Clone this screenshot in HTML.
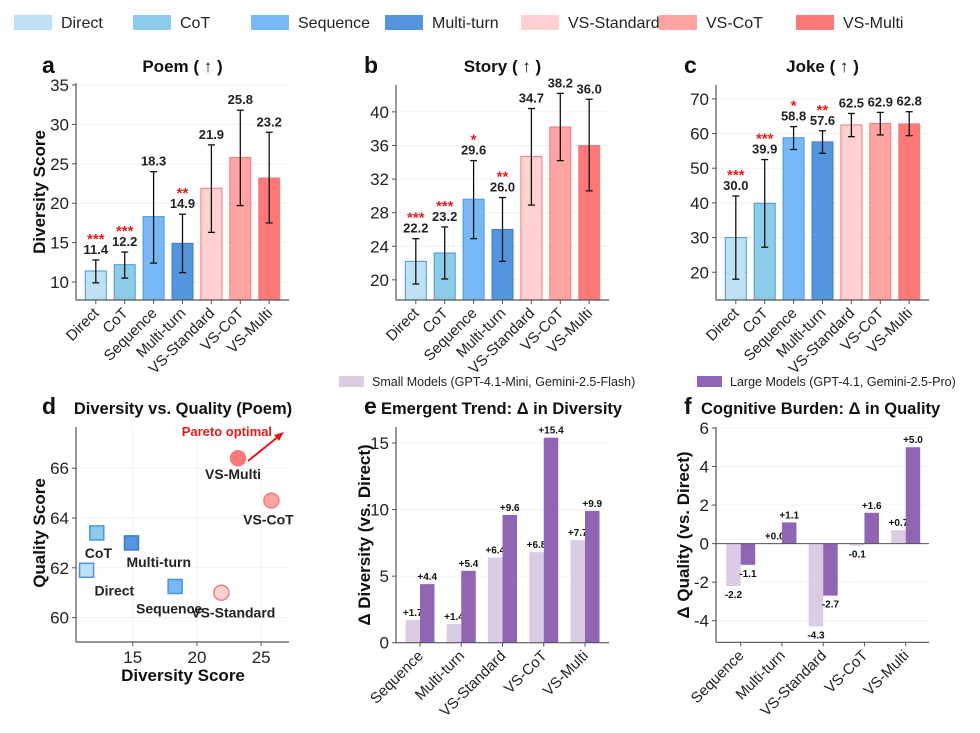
<!DOCTYPE html>
<html><head><meta charset="utf-8">
<style>
body{margin:0;background:#fff;}
svg{display:block;font-family:"Liberation Sans",Arial,sans-serif;}
</style></head>
<body>
<svg id="fig" width="980" height="733" viewBox="0 0 980 733" xmlns="http://www.w3.org/2000/svg"></svg>
<script>
const methods=["Direct","CoT","Sequence","Multi-turn","VS-Standard","VS-CoT","VS-Multi"];
const fills=["#bfe1f6","#8ccbea","#78b8f6","#5595de","#ffd1d1","#ffa3a3","#ff7878"];
const edges=["#4b97d6","#4b97d6","#4b97d6","#3a7cc9","#ee7c7c","#ee7c7c","#ee7c7c"];
const poemVals=[11.4,12.2,18.3,14.9,21.9,25.8,23.2];
const poemLo=[9.9,10.5,12.4,11.2,16.3,19.7,17.5];
const poemHi=[12.8,13.8,24.0,18.6,27.4,31.8,29.0];
const poemStars=["***","***","","**","","",""];
const poemTicks=[10,15,20,25,30,35];
const storyVals=[22.2,23.2,29.6,26.0,34.7,38.2,36.0];
const storyLo=[19.5,20.1,24.9,22.2,28.9,34.2,30.6];
const storyHi=[24.9,26.3,34.2,29.8,40.4,42.2,41.5];
const storyStars=["***","***","*","**","","",""];
const storyTicks=[20,24,28,32,36,40];
const jokeVals=[30.0,39.9,58.8,57.6,62.5,62.9,62.8];
const jokeLo=[18.0,27.2,55.4,54.3,59.1,59.6,59.4];
const jokeHi=[42.0,52.5,62.0,60.8,65.8,66.1,66.3];
const jokeStars=["***","***","*","**","","",""];
const jokeTicks=[20,30,40,50,60,70];
const scDiv=[11.4,12.2,18.3,14.9,21.9,25.8,23.2];
const scQual=[61.9,63.4,61.25,63.0,61.0,64.7,66.4];
const scXTicks=[15,20,25];
const scYTicks=[60,62,64,66];
const deltaCats=["Sequence","Multi-turn","VS-Standard","VS-CoT","VS-Multi"];
const divSmall=[1.7,1.4,6.4,6.8,7.7];
const divLarge=[4.4,5.4,9.6,15.4,9.9];
const divTicks=[0,5,10,15];
const qualSmall=[-2.2,0.0,-4.3,-0.1,0.7];
const qualLarge=[-1.1,1.1,-2.7,1.6,5.0];
const qualTicks=[-4,-2,0,2,4,6];

const svg=document.getElementById('fig');
const NS="http://www.w3.org/2000/svg";
function el(tag,attrs,parent,text){const e=document.createElementNS(NS,tag);for(const k in attrs)e.setAttribute(k,attrs[k]);if(text!==undefined)e.textContent=text;(parent||svg).appendChild(e);return e;}
function fmt(v,sign){const s=v.toFixed(1);return sign&&v>=0?"+"+s:s;}

const legX=[14,133,251,385,521,659,796];
methods.forEach((m,i)=>{
  const g=el('g',{});
  
  
  el('rect',{x:legX[i],y:15,width:38,height:15,fill:fills[i]},g);
  el('text',{x:legX[i]+47,y:28,'font-size':16,fill:'#222'},g,m);
});

function barPanel(o){
  const g=el('g',{});
  
  
  const ys=v=>o.yb-(v-o.vmin)/(o.vmax-o.vmin)*(o.yb-o.yt);
  const xs=i=>o.x0+19.8+i*28.9;
  o.ticks.forEach(t=>{
    el('line',{x1:o.x0,x2:o.x1,y1:ys(t),y2:ys(t),stroke:'#f0f0f0','stroke-width':1},g);
    el('line',{x1:o.x0-4,x2:o.x0,y1:ys(t),y2:ys(t),stroke:'#555'},g);
    el('text',{x:o.x0-7,y:ys(t)+6,'font-size':17,'text-anchor':'end',fill:'#222'},g,t);
  });
  o.vals.forEach((v,i)=>{
    const cx=xs(i);
    const b=el('rect',{x:cx-10.5,y:ys(v),width:21,height:o.yb-ys(v),fill:fills[i],stroke:edges[i],'stroke-width':1},g);
    
    
    const lo=ys(o.lo[i]),hi=ys(o.hi[i]);
    el('line',{x1:cx,x2:cx,y1:lo,y2:hi,stroke:'#111','stroke-width':1.3},g);
    el('line',{x1:cx-3.5,x2:cx+3.5,y1:lo,y2:lo,stroke:'#111','stroke-width':1.3},g);
    el('line',{x1:cx-3.5,x2:cx+3.5,y1:hi,y2:hi,stroke:'#111','stroke-width':1.3},g);
    el('text',{x:cx,y:hi-6,'font-size':13,'font-weight':'bold','text-anchor':'middle',fill:'#222'},g,fmt(o.vals[i]));
    if(o.stars[i]) el('text',{x:cx,y:hi-16,'font-size':15,'font-weight':'bold','text-anchor':'middle',fill:'#e02020'},g,o.stars[i]);
    el('line',{x1:cx,x2:cx,y1:o.yb,y2:o.yb+4,stroke:'#555'},g);
    el('text',{x:cx+4,y:o.yb+14,'font-size':15,'text-anchor':'end',fill:'#222',transform:`rotate(-45 ${cx+4} ${o.yb+14})`},g,methods[i]);
  });
  el('line',{x1:o.x0,x2:o.x0,y1:o.spineTop,y2:o.yb,stroke:'#555','stroke-width':1.2},g);
  el('line',{x1:o.x0,x2:o.x1,y1:o.yb,y2:o.yb,stroke:'#555','stroke-width':1.2},g);
  el('text',{x:(o.x0+o.x1)/2,y:72,'font-size':17,'font-weight':'bold','text-anchor':'middle',fill:'#111'},g,o.title);
  el('text',{x:o.letterX,y:73,'font-size':23,'font-weight':'bold',fill:'#111'},g,o.letter);
}
barPanel({name:'poem-panel',title:'Poem ( ↑ )',letter:'a',letterX:42,x0:76,x1:289,yt:83,yb:300,vmin:7.72,vmax:35.25,spineTop:83,ticks:poemTicks,vals:poemVals,lo:poemLo,hi:poemHi,stars:poemStars});
barPanel({name:'story-panel',title:'Story ( ↑ )',letter:'b',letterX:364,x0:396,x1:609,yt:85,yb:300,vmin:17.6,vmax:43.2,spineTop:85,ticks:storyTicks,vals:storyVals,lo:storyLo,hi:storyHi,stars:storyStars});
barPanel({name:'joke-panel',title:'Joke ( ↑ )',letter:'c',letterX:684,x0:716,x1:929,yt:85,yb:300,vmin:12.0,vmax:74.0,spineTop:85,ticks:jokeTicks,vals:jokeVals,lo:jokeLo,hi:jokeHi,stars:jokeStars});
const yt1=el('text',{x:0,y:0,'font-size':17,'font-weight':'bold','text-anchor':'middle',fill:'#111',transform:'translate(45 192) rotate(-90)'},svg,'Diversity Score');



(function(){
  const g=el('g',{});
  
  
  const x0=76,x1=289,yb=642,yt=427;
  const xs=v=>x0+(v-10.58)*12.84;
  const ys=v=>yb-(v-59.02)*24.9;
  scXTicks.forEach(t=>{
    el('line',{x1:xs(t),x2:xs(t),y1:yt,y2:yb,stroke:'#f0f0f0'},g);
    el('line',{x1:xs(t),x2:xs(t),y1:yb,y2:yb+4,stroke:'#555'},g);
    el('text',{x:xs(t),y:yb+21,'font-size':17,'text-anchor':'middle',fill:'#222'},g,t);
  });
  scYTicks.forEach(t=>{
    el('line',{x1:x0,x2:x1,y1:ys(t),y2:ys(t),stroke:'#f0f0f0'},g);
    el('line',{x1:x0-4,x2:x0,y1:ys(t),y2:ys(t),stroke:'#555'},g);
    el('text',{x:x0-7,y:ys(t)+6,'font-size':17,'text-anchor':'end',fill:'#222'},g,t);
  });
  el('line',{x1:x0,x2:x0,y1:yt,y2:yb,stroke:'#555','stroke-width':1.2},g);
  el('line',{x1:x0,x2:x1,y1:yb,y2:yb,stroke:'#555','stroke-width':1.2},g);
  const lblOff=[[8,25,'start'],[-12,25,'start'],[-6,27,'middle'],[-5,24,'start'],[12,25,'middle'],[-3,24,'middle'],[-5,21,'middle']];
  scDiv.forEach((d,i)=>{
    const cx=xs(d),cy=ys(scQual[i]);
    let m;
    if(i<4) m=el('rect',{x:cx-7,y:cy-7,width:14,height:14,fill:fills[i],stroke:edges[i],'stroke-width':1.5},g);
    else m=el('circle',{cx:cx,cy:cy,r:7.5,fill:fills[i],stroke:edges[i],'stroke-width':1.5},g);
    
    
    const o=lblOff[i];
    el('text',{x:cx+o[0],y:cy+o[1],'font-size':14,'font-weight':'bold','text-anchor':o[2],fill:'#222'},g,methods[i]);
  });
  el('text',{x:272,y:436,'font-size':13,'font-weight':'bold','text-anchor':'end',fill:'#e01a1a'},g,'Pareto optimal');
  el('line',{x1:248,y1:461,x2:279,y2:436,stroke:'#e01a1a','stroke-width':2},g);
  el('polygon',{points:'284,432 274,435 279,441',fill:'#e01a1a'},g);
  el('text',{x:183,y:414,'font-size':16.5,'font-weight':'bold','text-anchor':'middle',fill:'#111'},g,'Diversity vs. Quality (Poem)');
  el('text',{x:42,y:414,'font-size':23,'font-weight':'bold',fill:'#111'},g,'d');
  el('text',{x:183,y:681,'font-size':17,'font-weight':'bold','text-anchor':'middle',fill:'#111'},g,'Diversity Score');
  el('text',{x:0,y:0,'font-size':17,'font-weight':'bold','text-anchor':'middle',fill:'#111',transform:'translate(45 533) rotate(-90)'},g,'Quality Score');
})();

[["Small Models (GPT-4.1-Mini, Gemini-2.5-Flash)","#dccbe5",339],["Large Models (GPT-4.1, Gemini-2.5-Pro)","#8f65b4",697]].forEach((l,i)=>{
  const g=el('g',{});
  
  
  el('rect',{x:l[2],y:376,width:25,height:11,fill:l[1]},g);
  el('text',{x:l[2]+33,y:386,'font-size':12.5,fill:'#222'},g,l[0]);
});

function deltaPanel(o){
  const g=el('g',{});
  
  
  const ys=v=>o.yb-(v-o.vmin)/(o.vmax-o.vmin)*(o.yb-o.yt);
  const xs=i=>o.c0+i*41.25;
  o.ticks.forEach(t=>{
    el('line',{x1:o.x0,x2:o.x1,y1:ys(t),y2:ys(t),stroke:'#f0f0f0'},g);
    el('line',{x1:o.x0-4,x2:o.x0,y1:ys(t),y2:ys(t),stroke:'#555'},g);
    el('text',{x:o.x0-7,y:ys(t)+6,'font-size':17,'text-anchor':'end',fill:'#222'},g,t);
  });
  const z=ys(0);
  deltaCats.forEach((c,i)=>{
    const cx=xs(i);
    [[o.small[i],'#dccbe5',-14.5,'small'],[o.large[i],'#8f65b4',0,'large']].forEach(s=>{
      const v=s[0],top=Math.min(ys(v),z),h=Math.abs(ys(v)-z);
      const r=el('rect',{x:cx+s[2],y:top,width:14.5,height:Math.max(h,0.5),fill:s[1]},g);
      
      
      const ly=v>=0?ys(v)-4:ys(v)+12;
      el('text',{x:cx+s[2]+7.25,y:ly,'font-size':10,'font-weight':'bold','text-anchor':'middle',fill:'#111'},g,fmt(v,true));
    });
    el('line',{x1:cx,x2:cx,y1:o.yb,y2:o.yb+4,stroke:'#555'},g);
    el('text',{x:cx+4,y:o.yb+14,'font-size':15,'text-anchor':'end',fill:'#222',transform:`rotate(-45 ${cx+4} ${o.yb+14})`},g,c);
  });
  if(o.zeroLine) el('line',{x1:o.x0,x2:o.x1,y1:z,y2:z,stroke:'#555','stroke-width':1},g);
  el('line',{x1:o.x0,x2:o.x0,y1:o.yt,y2:o.yb,stroke:'#555','stroke-width':1.2},g);
  el('line',{x1:o.x0,x2:o.x1,y1:o.yb,y2:o.yb,stroke:'#555','stroke-width':1.2},g);
  el('text',{x:o.letterX,y:414,'font-size':23,'font-weight':'bold',fill:'#111'},g,o.letter);
  el('text',{x:o.letterX+17,y:414,'font-size':16.5,'font-weight':'bold',fill:'#111'},g,o.title);
  el('text',{x:0,y:0,'font-size':17,'font-weight':'bold','text-anchor':'middle',fill:'#111',transform:`translate(${o.ytX} 535) rotate(-90)`},g,o.ytitle);
}
deltaPanel({name:'diversity-delta-panel',letter:'e',letterX:364,title:'Emergent Trend: Δ in Diversity',x0:396,x1:609,yt:427,yb:642.7,vmin:0,vmax:16.2,c0:420,ticks:divTicks,small:divSmall,large:divLarge,ytitle:'Δ Diversity (vs. Direct)',ytX:370,zeroLine:false});
deltaPanel({name:'quality-delta-panel',letter:'f',letterX:684,title:'Cognitive Burden: Δ in Quality',x0:716,x1:929,yt:427,yb:642.3,vmin:-5.12,vmax:6.05,c0:740.7,ticks:qualTicks,small:qualSmall,large:qualLarge,ytitle:'Δ Quality (vs. Direct)',ytX:689,zeroLine:true});
</script>
</body></html>
